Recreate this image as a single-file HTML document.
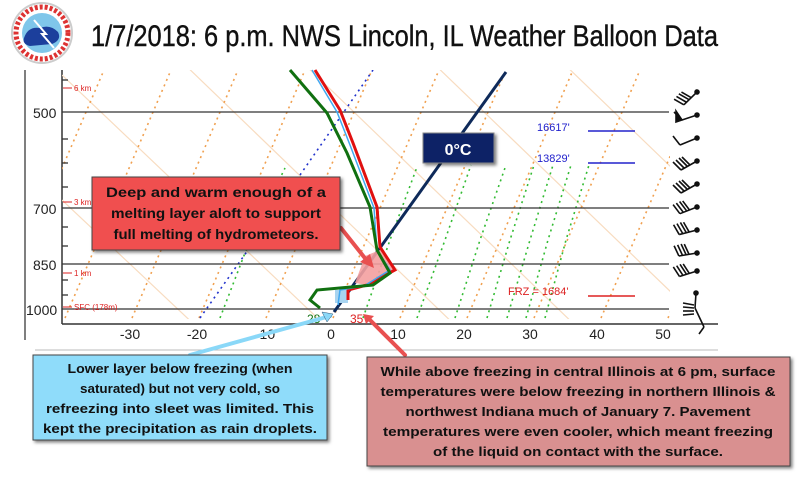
<!DOCTYPE html>
<html><head><meta charset="utf-8"><style>
html,body{margin:0;padding:0;background:#fff;width:810px;height:484px;overflow:hidden}
.b{font-family:"Liberation Sans",sans-serif;font-weight:bold}
</style></head><body>
<svg width="810" height="484" viewBox="0 0 810 484" xmlns="http://www.w3.org/2000/svg">
<defs>
<clipPath id="pc"><rect x="62" y="70" width="608" height="249"/></clipPath>
<filter id="sh" x="-10%" y="-10%" width="130%" height="130%"><feDropShadow dx="2" dy="2" stdDeviation="1.5" flood-opacity="0.5"/></filter>
<g id="wb"><circle cx="0" cy="0" r="2"/><line x1="0" y1="0" x2="-16" y2="9"/>
<line x1="-16" y1="9" x2="-24" y2="1"/><line x1="-13" y1="7" x2="-21" y2="-1"/><line x1="-10" y1="5" x2="-18" y2="-3"/><line x1="-7" y1="4" x2="-15" y2="-4"/></g>
</defs>
<!-- logo -->
<circle cx="42" cy="33" r="30" fill="#fff" stroke="#ccc" stroke-width="2"/>
<circle cx="42" cy="33" r="26" fill="none" stroke="#d33" stroke-width="5" stroke-dasharray="3 2"/>
<circle cx="42" cy="33" r="20" fill="#7fc6ea"/>
<path d="M24 38 Q28 26 40 28 Q50 24 58 32 Q62 40 52 44 L30 46 Q22 44 24 38Z" fill="#1c3f9c"/>
<path d="M34 20 L46 34 L42 34 L54 48" stroke="#fff" stroke-width="2" fill="none"/>
<!-- title -->
<text x="91" y="46" font-family="Liberation Sans,sans-serif" font-size="30" textLength="627" lengthAdjust="spacingAndGlyphs" fill="#111" stroke="#111" stroke-width="0.4">1/7/2018:  6 p.m.  NWS Lincoln, IL Weather Balloon Data</text>
<!-- frame -->
<line x1="25" y1="70" x2="25" y2="340" stroke="#555" stroke-width="1.5"/>
<line x1="62" y1="70" x2="62" y2="324" stroke="#333" stroke-width="1.5"/>
<line x1="62" y1="324" x2="718" y2="324" stroke="#333" stroke-width="1.5"/>
<line x1="35" y1="350" x2="718" y2="350" stroke="#bbb" stroke-width="1"/>
<g clip-path="url(#pc)">
<g stroke="#f8dcc0" stroke-width="1.2">
<line x1="62" y1="75" x2="330" y2="330"/>
<line x1="180" y1="60" x2="460" y2="330"/>
<line x1="300" y1="60" x2="580" y2="330"/>
<line x1="430" y1="60" x2="700" y2="320"/>
<line x1="560" y1="60" x2="700" y2="195"/>
<line x1="62" y1="200" x2="200" y2="330"/>
</g>
<g stroke="#f0a050" stroke-width="1.6" stroke-dasharray="2 4">
<line x1="-2" y1="318" x2="104" y2="70"/>
<line x1="65" y1="318" x2="171" y2="70"/>
<line x1="132" y1="318" x2="238" y2="70"/>
<line x1="199" y1="318" x2="305" y2="70"/>
<line x1="266" y1="318" x2="372" y2="70"/>
<line x1="333" y1="318" x2="439" y2="70"/>
<line x1="400" y1="318" x2="506" y2="70"/>
<line x1="467" y1="318" x2="573" y2="70"/>
<line x1="534" y1="318" x2="640" y2="70"/>
<line x1="601" y1="318" x2="707" y2="70"/>
<line x1="668" y1="318" x2="774" y2="70"/>
</g>
<g stroke="#33bb33" stroke-width="1.6" stroke-dasharray="2 4" fill="none">
<polyline points="220,318 250,240 285,168"/>
<polyline points="363,318 390,240 417,167"/>
<polyline points="417,318 445,240 471,165"/>
<polyline points="455,318 480,240 506,165"/>
<polyline points="487,318 510,240 534,165"/>
<polyline points="507,318 530,240 553,165"/>
<polyline points="526,318 548,240 571,165"/>
<polyline points="545,318 566,240 589,165"/>
</g>
<g stroke="#2233cc" stroke-width="1.6" stroke-dasharray="2 4">
<line x1="200" y1="318" x2="248" y2="250"/>
<line x1="300" y1="175" x2="373" y2="70"/>
</g>
</g>
<g stroke="#333" stroke-width="1.3">
<line x1="62" y1="112" x2="669" y2="112"/>
<line x1="62" y1="208" x2="669" y2="208"/>
<line x1="62" y1="264" x2="669" y2="264"/>
<line x1="62" y1="309" x2="669" y2="309"/>
<line x1="62" y1="139" x2="68" y2="139"/><line x1="62" y1="163" x2="68" y2="163"/><line x1="62" y1="187" x2="68" y2="187"/><line x1="62" y1="227" x2="68" y2="227"/><line x1="62" y1="246" x2="68" y2="246"/><line x1="62" y1="280" x2="68" y2="280"/><line x1="62" y1="295" x2="68" y2="295"/><line x1="62" y1="80" x2="68" y2="80"/>
</g>
<g font-size="14" fill="#222" font-family="Liberation Sans,sans-serif">
<text x="33" y="118">500</text><text x="33" y="214">700</text><text x="33" y="270">850</text><text x="26" y="315">1000</text>
<g text-anchor="middle"><text x="130" y="339">-30</text><text x="197" y="339">-20</text><text x="265" y="339">-10</text><text x="331" y="339">0</text><text x="398" y="339">10</text><text x="464" y="339">20</text><text x="530" y="339">30</text><text x="597" y="339">40</text><text x="663" y="339">50</text></g>
</g>
<g font-family="Liberation Sans,sans-serif" font-size="8" fill="#d22">
<line x1="63" y1="88" x2="72" y2="88" stroke="#d22"/><text x="74" y="91">6 km</text>
<line x1="63" y1="202" x2="72" y2="202" stroke="#d22"/><text x="74" y="205">3 km</text>
<line x1="63" y1="273" x2="72" y2="273" stroke="#d22"/><text x="74" y="276">1 km</text>
<line x1="63" y1="307" x2="72" y2="307" stroke="#d22"/><text x="74" y="310">SFC (178m)</text>
</g>
<line x1="334" y1="312" x2="506" y2="72" stroke="#0e2a5a" stroke-width="3"/>
<polygon points="365,256 380,250 395,270 367,285 355,283" fill="#f4a0a0" opacity="0.9"/>
<polygon points="335,290 348,290 348,303 335,303" fill="#a8d4f0"/>
<polyline points="315,70 340,110 353,143 377,207 380,247 395,270 367,285 348,290 348,300" fill="none" stroke="#e01010" stroke-width="3"/>
<polyline points="312,70 337,112 350,145 374,208 377,250 390,270 364,286 340,290 338,305" fill="none" stroke="#40a8f0" stroke-width="1.5"/>
<polyline points="290,70 327,113 347,153 370,207 377,250 390,273 373,285 317,290 310,300 320,308" fill="none" stroke="#107010" stroke-width="3"/>
<text x="307" y="323" font-family="Liberation Sans,sans-serif" font-size="12" fill="#107010">28</text>
<text x="350" y="323" font-family="Liberation Sans,sans-serif" font-size="12" fill="#d22">35</text>
<g font-family="Liberation Sans,sans-serif" font-size="11">
<text x="537" y="131" fill="#2222cc">16617'</text><line x1="588" y1="131" x2="635" y2="131" stroke="#2222cc" stroke-width="1.5"/>
<text x="537" y="162" fill="#2222cc">13829'</text><line x1="588" y1="163" x2="635" y2="163" stroke="#2222cc" stroke-width="1.5"/>
<text x="508" y="295" fill="#d22">FRZ = 1684'</text><line x1="588" y1="296" x2="635" y2="296" stroke="#d22" stroke-width="1.5"/>
</g>
<!-- wind barbs -->
<g stroke="#111" stroke-width="1.6" fill="#111">
<use href="#wb" transform="translate(697,92) rotate(-15)"/>
<circle cx="697" cy="115" r="2"/><line x1="697" y1="115" x2="682" y2="120"/><line x1="682" y1="120" x2="674" y2="112"/><polygon points="676,122 682,120 676,111"/>
<circle cx="697" cy="138" r="2"/><line x1="697" y1="138" x2="680" y2="145"/><line x1="680" y1="145" x2="673" y2="136"/>
<use href="#wb" transform="translate(697,161)"/>
<use href="#wb" transform="translate(697,184)"/>
<use href="#wb" transform="translate(697,207) rotate(8)"/>
<use href="#wb" transform="translate(697,230) rotate(15)"/>
<use href="#wb" transform="translate(697,253) rotate(20)"/>
<use href="#wb" transform="translate(697,271) rotate(12)"/>
<circle cx="696" cy="293" r="2"/><line x1="696" y1="293" x2="695" y2="308"/><line x1="695" y1="308" x2="704" y2="327"/><line x1="704" y1="327" x2="699" y2="334"/>
<line x1="694" y1="305" x2="683" y2="303"/><line x1="694" y1="308" x2="683" y2="307"/><line x1="694" y1="311" x2="683" y2="311"/><line x1="694" y1="314" x2="683" y2="315"/>
</g>
<rect x="423" y="133" width="71" height="30" fill="#0a2466" stroke="#888" filter="url(#sh)"/>
<text x="458" y="155" text-anchor="middle" class="b" font-size="16" fill="#fff">0°C</text>
<g stroke-width="4" stroke-linecap="round">
<line x1="341" y1="228" x2="368" y2="262" stroke="#e85050"/>
<line x1="190" y1="355" x2="330" y2="316" stroke="#8ad8f8"/>
<line x1="405" y1="355" x2="368" y2="318" stroke="#e85050"/>
</g>
<polygon points="374,268 360,262 370,254" fill="#e85050"/>
<polygon points="333,314 322,312 327,322" fill="#8ad8f8" stroke="#357" stroke-width="0.5"/>
<polygon points="363,314 374,316 366,324" fill="#e85050"/>
<rect x="92" y="177" width="248" height="73" fill="#f05050" stroke="#444" filter="url(#sh)"/>
<g class="b" font-size="14" text-anchor="middle" fill="#111">
<text x="216" y="197" textLength="220" lengthAdjust="spacingAndGlyphs">Deep and warm enough of a</text>
<text x="216" y="218" textLength="210" lengthAdjust="spacingAndGlyphs">melting layer aloft to support</text>
<text x="216" y="239" textLength="205" lengthAdjust="spacingAndGlyphs">full melting of hydrometeors.</text>
</g>
<rect x="33" y="355" width="294" height="85" fill="#8fdcfa" stroke="#444" filter="url(#sh)"/>
<g class="b" font-size="13" text-anchor="middle" fill="#111">
<text x="180" y="373" textLength="225" lengthAdjust="spacingAndGlyphs">Lower layer below freezing (when</text>
<text x="180" y="393" textLength="200" lengthAdjust="spacingAndGlyphs">saturated) but not very cold, so</text>
<text x="180" y="413" textLength="268" lengthAdjust="spacingAndGlyphs">refreezing into sleet was limited. This</text>
<text x="180" y="433" textLength="274" lengthAdjust="spacingAndGlyphs">kept the precipitation as rain droplets.</text>
</g>
<rect x="367" y="357" width="423" height="109" fill="#d99090" stroke="#444" filter="url(#sh)"/>
<g class="b" font-size="13" text-anchor="middle" fill="#111">
<text x="578" y="376" textLength="395" lengthAdjust="spacingAndGlyphs">While above freezing in central Illinois at 6 pm, surface</text>
<text x="578" y="396" textLength="395" lengthAdjust="spacingAndGlyphs">temperatures were below freezing in northern Illinois &amp;</text>
<text x="578" y="416" textLength="345" lengthAdjust="spacingAndGlyphs">northwest Indiana much of January 7.  Pavement</text>
<text x="578" y="436" textLength="390" lengthAdjust="spacingAndGlyphs">temperatures were even cooler, which meant freezing</text>
<text x="578" y="456" textLength="290" lengthAdjust="spacingAndGlyphs">of the liquid on contact with the surface.</text>
</g>
</svg>
</body></html>
